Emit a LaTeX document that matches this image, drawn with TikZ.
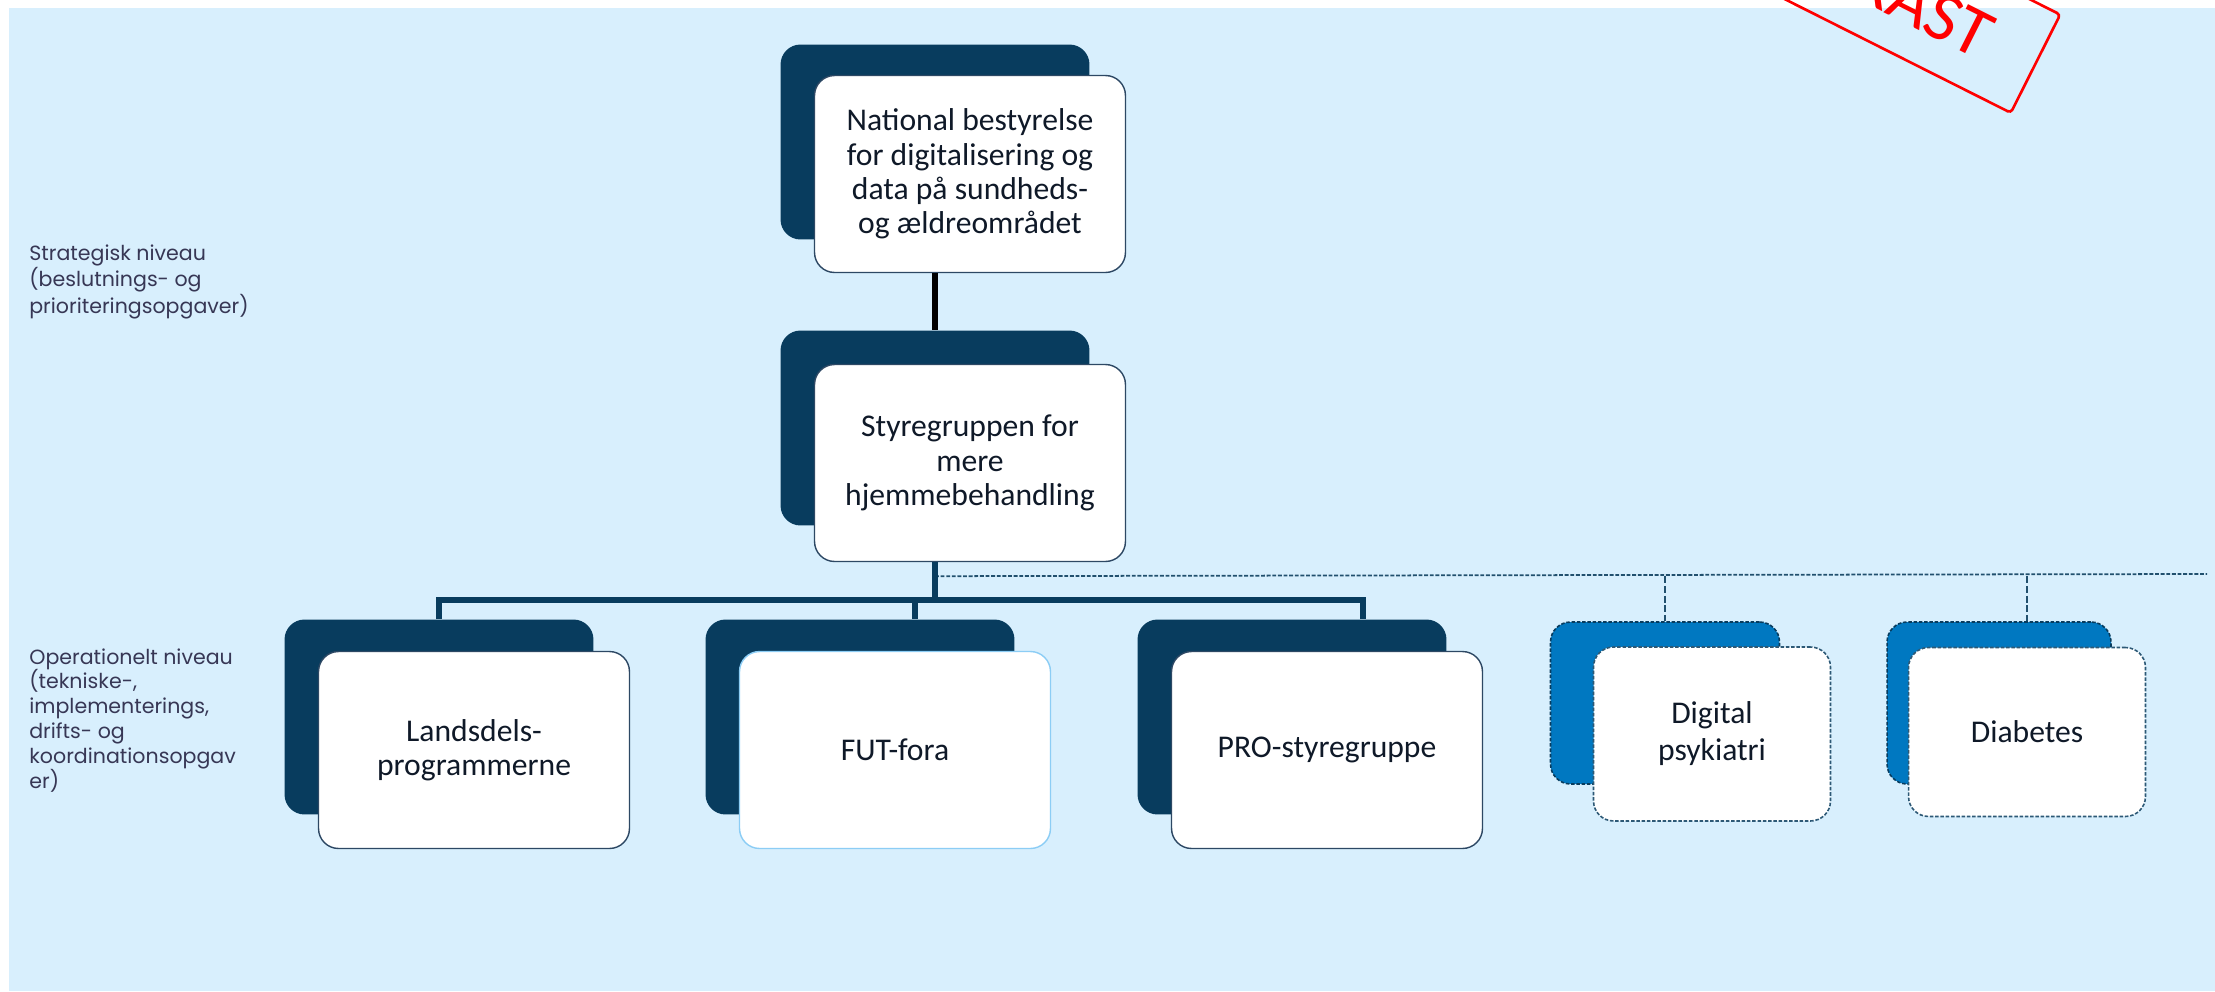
\documentclass[tikz,border=0pt]{standalone}
\usepackage{fontspec}
\setmainfont{Carlito}
\newfontfamily\labelfont{Poppins}

\definecolor{paper}{RGB}{216,239,253}
\definecolor{navy}{RGB}{8,60,94}
\definecolor{midblue}{RGB}{0,120,193}
\definecolor{edge}{RGB}{45,72,100}
\definecolor{futedge}{RGB}{140,205,245}
\definecolor{ink}{RGB}{15,25,40}
\definecolor{labelink}{RGB}{55,55,85}

\tikzset{%
  % Specifications for style of boxes:
  base/.style = {
    rectangle,
    rounded corners=0.4cm,
    text centered,
    align=center
  },
  cardback/.style = {base, fill=navy, minimum width=6.18cm, minimum height=3.9cm},
  card/.style = {base, fill=white, draw=edge, line width=0.8pt,
                 minimum width=6.22cm, minimum height=3.94cm,
                 text=ink, font=\fontsize{18}{19.5}\selectfont},
  optback/.style = {cardback, fill=midblue, draw=navy, line width=0.9pt,
                    dash pattern=on 2pt off 1pt,
                    minimum width=4.58cm, minimum height=3.24cm},
  optcard/.style = {card, draw=navy!85, line width=0.9pt, dash pattern=on 2pt off 1pt,
                    minimum width=4.74cm, minimum height=3.48cm,
                    font=\fontsize{18}{21}\selectfont},
  level/.style = {align=left, inner sep=0pt, anchor=north west, text=labelink},
  orgline/.style = {navy, line width=3.6pt},
  optline/.style = {navy!90, line width=1pt, dash pattern=on 2.2pt off 1pt},
  draftmark/.style = {draw=red, text=red, line width=1.5pt, rounded corners=2pt,
                      minimum width=6.74cm, minimum height=2.2cm,
                      font=\fontsize{40}{40}\selectfont},
}

\begin{document}
\begin{tikzpicture}[x=0.02cm, y=-0.02cm]
  \useasboundingbox (0,0) rectangle (2215,991);
  \fill[paper] (9,8) rectangle (2215,991);
  % level texts
  \node (strat) [level, font=\labelfont\fontsize{11.7}{11.9}\selectfont] at (29,244)
  {Strategisk niveau\\(beslutnings- og\\prioriteringsopgaver)};
  \node (oper) [level, font=\labelfont\fontsize{11.7}{14.2}\selectfont] at (29,648)
  {Operationelt niveau\\(tekniske-,\\implementerings,\\drifts- og\\koordinationsopgav\\er)};
  % nodes
  \node (natB) [cardback] at (935,142) {};
  \node (nat) [card] at ([shift={(35,32)}]natB.center)
  {National bestyrelse\\for digitalisering og\\data på sundheds-\\og ældreområdet};
  \node (styB) [cardback] at (935,428) {};
  \node (sty) [card] at ([shift={(35,35)}]styB.center)
  {Styregruppen for\\mere\\hjemmebehandling};
  \node (lanB) [cardback] at (439,717) {};
  \node (lan) [card] at ([shift={(35,33)}]lanB.center) {Landsdels-\\programmerne};
  \node (futB) [cardback] at (860,717) {};
  \node (fut) [card, draw=futedge] at ([shift={(35,33)}]futB.center) {FUT-fora};
  \node (proB) [cardback] at (1292,717) {};
  \node (pro) [card] at ([shift={(35,33)}]proB.center) {PRO-styregruppe};
  \node (dpsB) [optback] at (1665,703) {};
  \node (dps) [optcard] at ([shift={(47,31)}]dpsB.center) {Digital\\psykiatri};
  \node (diaB) [optback, minimum width=4.48cm] at (1999,703) {};
  \node (dia) [optcard, minimum height=3.38cm] at ([shift={(28,29)}]diaB.center) {Diabetes};
  % lines
  \path (styB.south |- sty.south) ++(0,38) coordinate (hub);
  \path (styB.south |- sty.south) ++(0,14) coordinate (opthub);
  \path (futB.north) ++(55,0) coordinate (futin);
  \path (proB.north) ++(71,0) coordinate (proin);
  \coordinate (optend) at (2207,574);
  \draw[orgline, black, line width=3pt] (nat.south -| natB.south) -- (styB.north);
  \draw[optline] (opthub) -- (optend);
  \draw[optline, line width=0.8pt, dash pattern=on 4pt off 1.5pt] (opthub -| dpsB.north) -- (dpsB.north);
  \draw[optline, line width=0.8pt, dash pattern=on 4pt off 1.5pt] (opthub -| dia.north) -- (dia.north |- diaB.north);
  \draw[orgline] (styB.south |- sty.south) -- (hub);
  \draw[orgline] (lanB.north) |- (hub) -| (proin);
  \draw[orgline] (futin |- hub) -- (futin);
  % draft stamp
  \begin{scope}
    \clip (0,0) rectangle (2215,991);
    \node (draft) [draftmark, rotate=-26.7] at (1885,-12) {UDKAST};
  \end{scope}
\end{tikzpicture}
\end{document}
